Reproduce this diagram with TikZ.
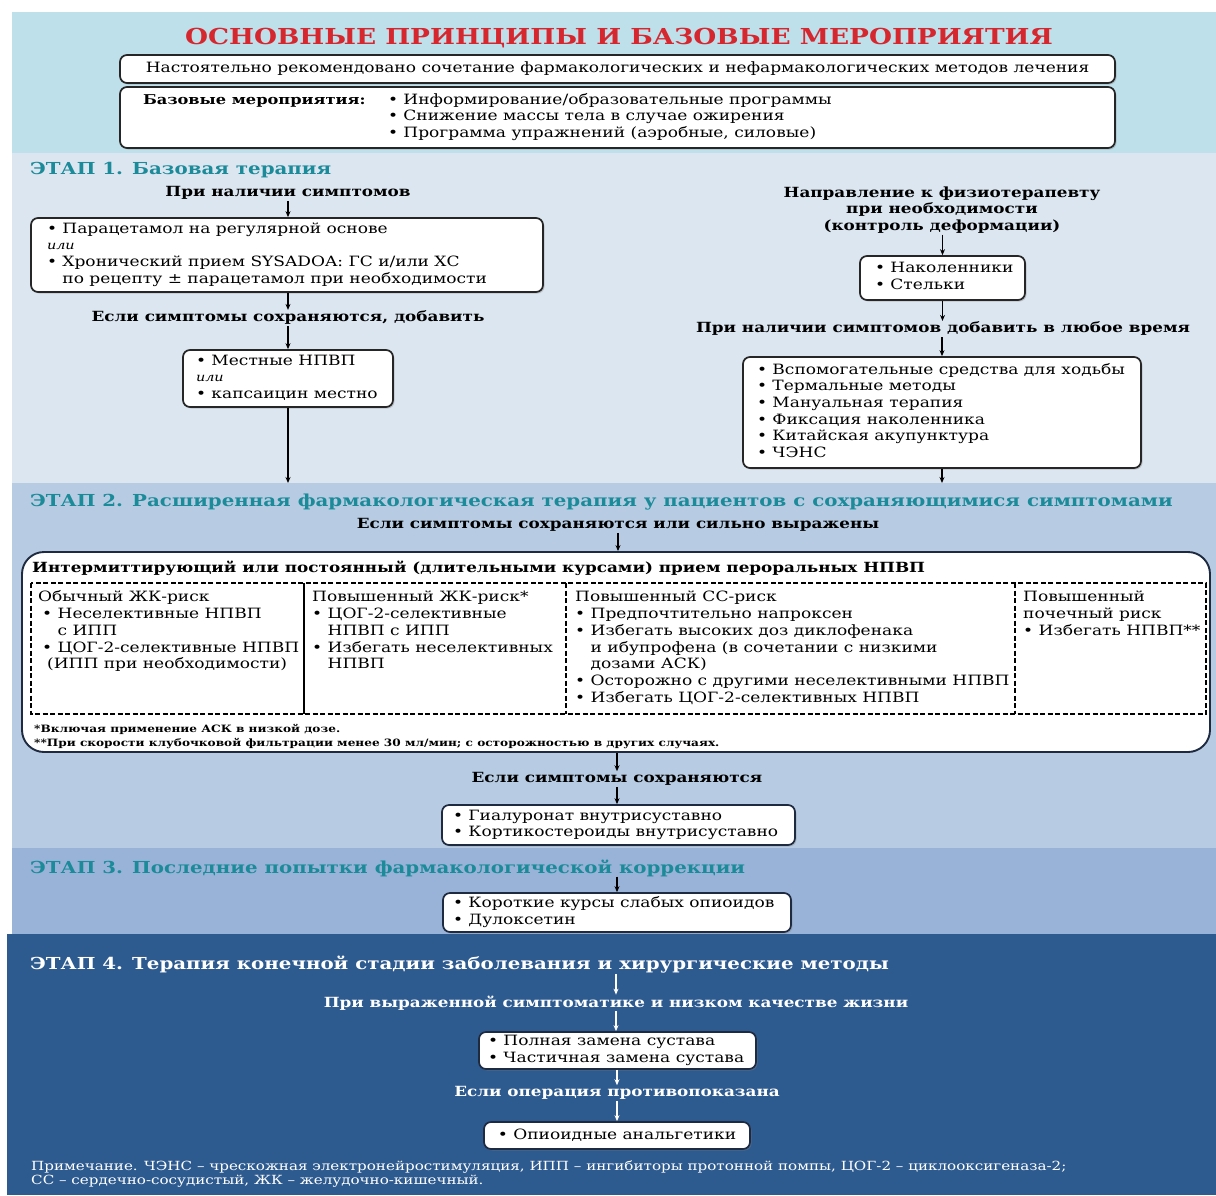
\documentclass[tikz,border=0pt]{standalone}
\usepackage{fontspec}
\setmainfont{DejaVu Serif}[FakeStretch=1.2]
\usetikzlibrary{arrows.meta,shadows}
\definecolor{topband}{HTML}{BEE0EB}
\definecolor{stone}{HTML}{DCE6F0}
\definecolor{stwo}{HTML}{B7CCE3}
\definecolor{sthree}{HTML}{98B3D7}
\definecolor{sfour}{HTML}{2E5B8F}
\definecolor{tealh}{HTML}{1B8A99}
\definecolor{titlered}{HTML}{D6262E}
\definecolor{boxline}{HTML}{262626}
\definecolor{navyline}{HTML}{1E2A40}
\newcommand\fbody{\fontsize{14.2}{16.7}\selectfont}
\newcommand\flbl{\fontsize{14}{16.7}\selectfont\bfseries}
\newcommand\fhead{\fontsize{16.5}{20}\selectfont\bfseries}
\newcommand\ffoot{\fontsize{10.1}{14}\selectfont\bfseries}
\newcommand\fnote{\fontsize{12.6}{14}\selectfont}
\newcommand\ftitle{\fontsize{22}{26}\selectfont\bfseries}
\newcommand\bul{\strut•\ }
\newcommand\indnt{\strut\hphantom{•\ }}
\newcommand\ili{\strut{\fontsize{12}{16.7}\selectfont\itshape или}}
% block of left-aligned lines in a box of fixed width (no wrapping)
\newcommand\blk[2]{\makebox[#1][l]{\begin{tabular}{@{}l@{}}#2\end{tabular}}}
\tikzset{
  box/.style={draw=boxline, line width=1.7pt, rounded corners=7pt, fill=white,
    inner sep=0pt, font=\fbody, align=center,
    drop shadow={shadow xshift=1.5pt, shadow yshift=-1.5pt, opacity=.35}},
  nbox/.style={box, draw=navyline},
  lbl/.style={font=\flbl, align=center, inner sep=1pt},
  wlbl/.style={lbl, text=white},
  stagehdr/.style={font=\fhead, text=tealh, anchor=west, inner sep=0pt},
  cell/.style={font=\fbody, align=left, anchor=north west, inner sep=0pt},
  arr/.style={-{Stealth[length=6pt,width=5pt]}, line width=1.1pt, draw=black},
  warr/.style={arr, draw=white, -{Stealth[length=6pt,width=5pt,fill=white]}},
}
\begin{document}
\begin{tikzpicture}[x=1pt,y=-1pt]
\useasboundingbox (0,0) rectangle (1216,1195);
\fill[white] (0,0) rectangle (1216,1195);
% bands
\fill[topband] (12,12) rectangle (1216,153);
\fill[stone] (12,153) rectangle (1216,483);
\fill[stwo] (12,483) rectangle (1216,848);
\fill[sthree] (12,848) rectangle (1216,934);
\fill[sfour] (7,934) rectangle (1216,1195);

% ---------- top section
\node[font=\ftitle, text=titlered, inner sep=0pt] (title) at (619,38)
  {ОСНОВНЫЕ ПРИНЦИПЫ И БАЗОВЫЕ МЕРОПРИЯТИЯ};
\node[box, minimum width=995, minimum height=28] (top1) at (617.5,69)
  {Настоятельно рекомендовано сочетание фармакологических и нефармакологических методов лечения};
\node[box, minimum width=995, minimum height=61] (top2) at (617.5,117.5)
  {\blk{949pt}{\makebox[245pt][l]{\fontsize{13.5}{16.7}\selectfont\bfseries Базовые мероприятия:}•\ Информирование/образовательные программы\\
   \hspace*{245pt}•\ Снижение массы тела в случае ожирения\\
   \hspace*{245pt}•\ Программа упражнений (аэробные, силовые)}};

% ---------- stage 1
\node[stagehdr] (h1) at (30,170) {ЭТАП 1. Базовая терапия};
\node[lbl] (l1a) at (288,193) {При наличии симптомов};
\node[box, minimum width=512, minimum height=74] (L1) at (287,255)
  {\blk{480pt}{\bul Парацетамол на регулярной основе\\
   \ili\\
   \bul Хронический прием SYSADOA: ГС и/или ХС\\
   \indnt по рецепту ± парацетамол при необходимости}};
\node[lbl] (l1b) at (288,318) {Если симптомы сохраняются, добавить};
\node[box, minimum width=210, minimum height=57] (L2) at (288,378.5)
  {\blk{184pt}{\bul Местные НПВП\\ \ili\\ \bul капсаицин местно}};
\coordinate (e1) at (288,483);

\node[lbl] (r1a) at (942,210) {Направление к физиотерапевту\\при необходимости\\(контроль деформации)};
\node[box, minimum width=165, minimum height=44] (R1) at (942.5,278)
  {\blk{135pt}{\bul Наколенники\\ \bul Стельки}};
\node[lbl] (r1b) at (943,329) {При наличии симптомов добавить в любое время};
\node[box, minimum width=398, minimum height=111] (R2) at (942,412.5)
  {\blk{370pt}{\bul Вспомогательные средства для ходьбы\\
   \bul Термальные методы\\
   \bul Мануальная терапия\\
   \bul Фиксация наколенника\\
   \bul Китайская акупунктура\\
   \bul ЧЭНС}};
\coordinate (e2) at (942,483);

\draw[arr] (l1a.south) -- (l1a.south |- L1.north);
\draw[arr] (L1.south -| l1b) -- (l1b.north);
\draw[arr] (l1b.south) -- (l1b.south |- L2.north);
\draw[arr] (L2.south) -- (e1);
\draw[arr] (r1a.south -| R1.north) -- (R1.north);
\draw[arr] (R1.south) -- (R1.south |- r1b.north);
\draw[arr] (r1b.south -| R2.north) -- (R2.north);
\draw[arr] (R2.south) -- (e2);

% ---------- stage 2
\node[stagehdr] (h2) at (30,502) {ЭТАП 2. Расширенная фармакологическая терапия у пациентов с сохраняющимися симптомами};
\node[lbl] (l2a) at (618,525) {Если симптомы сохраняются или сильно выражены};
\node[draw=navyline, line width=1.9pt, rounded corners=22pt, fill=white, minimum width=1188, minimum height=200, inner sep=0pt] (BB) at (616,652) {};
\node[anchor=west, font=\fontsize{14}{16.7}\selectfont\bfseries, inner sep=0pt] (bbh) at (32,568)
  {Интермиттирующий или постоянный (длительными курсами) прием пероральных НПВП};
\draw[line width=1.1pt, dash pattern=on 5pt off 2.5pt] (31,583) rectangle (1206,714);
\draw[line width=1.1pt] (304,583) -- (304,714);
\draw[line width=1.1pt, dash pattern=on 5pt off 2.5pt] (566,583) -- (566,714);
\draw[line width=1.1pt, dash pattern=on 5pt off 2.5pt] (1015,583) -- (1015,714);
\node[cell] (c1) at (38,590)
  {\strut Обычный ЖК-риск\\
   \strut\hspace{4pt}•\ Неселективные НПВП\\
   \strut\hspace{4pt}\hphantom{•\ }с ИПП\\
   \strut\hspace{4pt}•\ ЦОГ-2-селективные НПВП\\
   \strut\hspace{9pt}(ИПП при необходимости)};
\node[cell] (c2) at (312,590)
  {\strut Повышенный ЖК-риск*\\
   \bul ЦОГ-2-селективные\\
   \indnt НПВП с ИПП\\
   \bul Избегать неселективных\\
   \indnt НПВП};
\node[cell] (c3) at (575,590)
  {\strut Повышенный СС-риск\\
   \bul Предпочтительно напроксен\\
   \bul Избегать высоких доз диклофенака\\
   \indnt и ибупрофена (в сочетании с низкими\\
   \indnt дозами АСК)\\
   \bul Осторожно с другими неселективными НПВП\\
   \bul Избегать ЦОГ-2-селективных НПВП};
\node[cell] (c4) at (1023,590)
  {\strut Повышенный\\ \strut почечный риск\\ \bul Избегать НПВП**};
\node[cell, font=\ffoot] (fn) at (34,722)
  {\strut*Включая применение АСК в низкой дозе.\\
   \strut**При скорости клубочковой фильтрации менее 30 мл/мин; с осторожностью в других случаях.};
\node[lbl] (l2b) at (617,779) {Если симптомы сохраняются};
\node[nbox, minimum width=353, minimum height=40] (B2) at (618.5,825)
  {\blk{331pt}{\bul Гиалуронат внутрисуставно\\ \bul Кортикостероиды внутрисуставно}};

\draw[arr] (l2a.south) -- (l2a.south |- BB.north);
\draw[arr] (BB.south -| l2b) -- (l2b.north);
\draw[arr] (l2b.south) -- (l2b.south |- B2.north);

% ---------- stage 3
\node[stagehdr] (h3) at (30,868) {ЭТАП 3. Последние попытки фармакологической коррекции};
\node[nbox, minimum width=348, minimum height=39] (B3) at (617,912.5)
  {\blk{328pt}{\bul Короткие курсы слабых опиоидов\\ \bul Дулоксетин}};
\draw[arr] (h3.south -| B3.north) -- (B3.north);

% ---------- stage 4
\node[stagehdr, text=white] (h4) at (30,965) {ЭТАП 4. Терапия конечной стадии заболевания и хирургические методы};
\node[wlbl] (l4a) at (616,1003) {При выраженной симптоматике и низком качестве жизни};
\node[nbox, minimum width=277, minimum height=37] (B4) at (617.5,1050.5)
  {\blk{259pt}{\bul Полная замена сустава\\ \bul Частичная замена сустава}};
\node[wlbl] (l4b) at (617,1093) {Если операция противопоказана};
\node[nbox, minimum width=266, minimum height=27] (B5) at (617,1135.5)
  {•\ Опиоидные анальгетики};
\node[cell, font=\fnote, text=white] (note) at (31,1160)
  {\strut Примечание. ЧЭНС – чрескожная электронейростимуляция, ИПП – ингибиторы протонной помпы, ЦОГ-2 – циклооксигеназа-2;\\
   \strut СС – сердечно-сосудистый, ЖК – желудочно-кишечный.};

\draw[warr] (h4.south -| l4a) -- (l4a.north);
\draw[warr] (l4a.south) -- (l4a.south |- B4.north);
\draw[warr] (B4.south -| l4b) -- (l4b.north);
\draw[warr] (l4b.south) -- (l4b.south |- B5.north);
\end{tikzpicture}
\end{document}
